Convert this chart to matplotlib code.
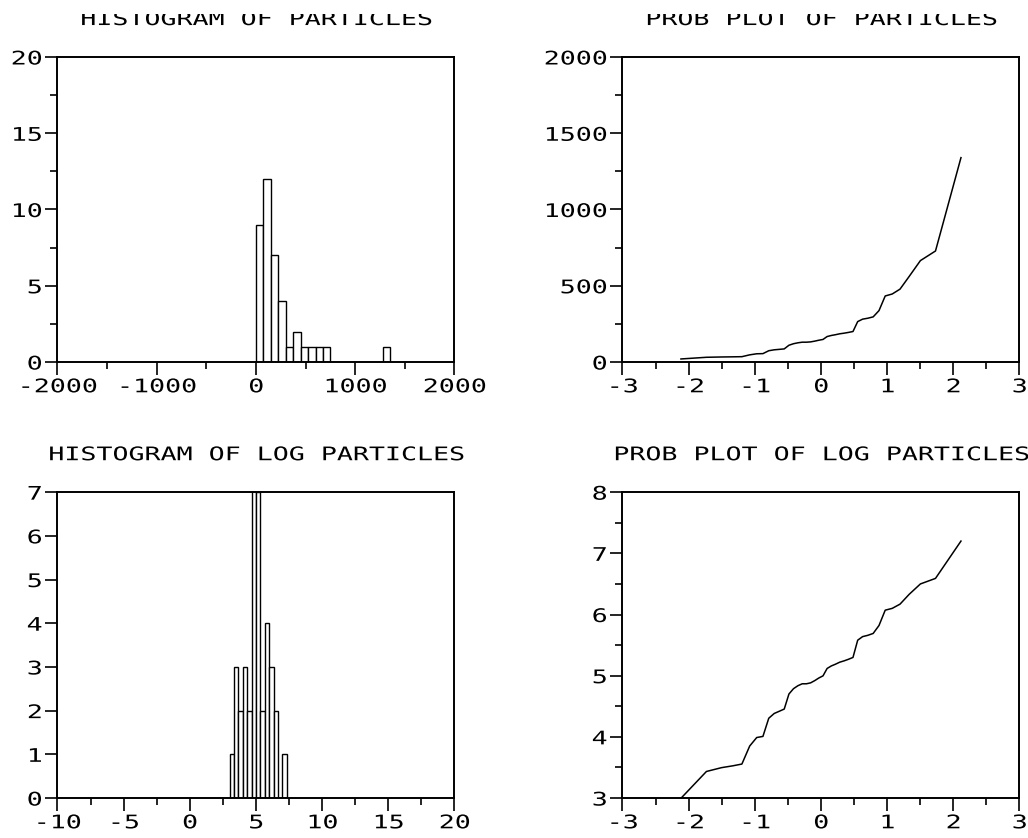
import matplotlib
matplotlib.use("Agg")
import matplotlib.pyplot as plt
import numpy as np
from matplotlib.patheffects import AbstractPathEffect
from matplotlib.transforms import Affine2D, Bbox, TransformedBbox
from matplotlib.ticker import MultipleLocator

# particle sizes, sorted
particles = [20, 31, 33, 34, 35, 47, 54, 55, 74, 80,
             83, 86, 110, 120, 126, 130, 130, 132, 137, 143,
             148, 167, 174, 179, 185, 189, 194, 200, 265, 281,
             287, 296, 337, 433, 446, 478, 561, 665, 728, 1340]

# normal order statistic medians (n = 40)
prob_x = [-2.116, -1.731, -1.503, -1.333, -1.195, -1.077, -0.971, -0.877, -0.789, -0.707,
          -0.629, -0.555, -0.484, -0.415, -0.348, -0.283, -0.219, -0.156, -0.093, -0.031,
          0.031, 0.093, 0.156, 0.219, 0.283, 0.348, 0.415, 0.484, 0.555, 0.629,
          0.707, 0.789, 0.877, 0.971, 1.077, 1.195, 1.333, 1.503, 1.731, 2.116]

# histogram of particles: class width 75 starting at 0
hist_start = 0
hist_width = 75
hist_counts = [9, 12, 7, 4, 1, 2, 1, 1, 1, 1, 0, 0, 0, 0, 0, 0, 0, 1]

# histogram of log particles: class width 1/3 starting at 3
loghist_start = 3.0
loghist_width = 1 / 3
loghist_counts = [1, 3, 2, 3, 2, 10, 7, 2, 4, 3, 2, 0, 1]

plt.rcParams['font.family'] = 'DejaVu Sans Mono'
plt.rcParams['font.size'] = 13.5
plt.rcParams['axes.unicode_minus'] = False


class Widen(AbstractPathEffect):
    """stretch text horizontally around an anchor (0 left, 0.5 centre, 1 right)"""

    def __init__(self, sx=1.42, anchor=0.5):
        super().__init__()
        self.sx = sx
        self.anchor = anchor

    def draw_path(self, renderer, gc, tpath, affine, rgbFace=None):
        xs = affine.transform(tpath.vertices)[:, 0]
        x0 = xs.min() + self.anchor * (xs.max() - xs.min())
        t = affine + Affine2D().translate(-x0, 0).scale(self.sx, 1).translate(x0, 0)
        renderer.draw_path(gc, tpath, t, rgbFace)


fig = plt.figure(figsize=(10.28, 8.38), dpi=100)
ax1 = fig.add_axes([0.0559, 0.568, 0.3862, 0.364])
ax2 = fig.add_axes([0.6055, 0.568, 0.3862, 0.364])
ax3 = fig.add_axes([0.0559, 0.0477, 0.3862, 0.365])
ax4 = fig.add_axes([0.6055, 0.0477, 0.3862, 0.365])

# the top row titles run off the upper edge of the page
page_top = TransformedBbox(Bbox([[0, 0], [1, 824 / 838]]), fig.transFigure)


def style(ax, title, xt, xminor, yt, yminor):
    ax.set_xlim(xt[0], xt[-1])
    ax.set_ylim(yt[0], yt[-1])
    ax.set_xticks(xt)
    ax.set_yticks(yt)
    ax.xaxis.set_minor_locator(MultipleLocator(xminor))
    if yminor:
        ax.yaxis.set_minor_locator(MultipleLocator(yminor))
    ax.tick_params(which='both', direction='out', top=False, right=False, width=1.2, color='black')
    ax.tick_params(which='major', length=9, pad=2)
    ax.tick_params(which='minor', length=5)
    for s in ax.spines.values():
        s.set_linewidth(1.4)
    for lab in ax.get_xticklabels():
        lab.set_path_effects([Widen(anchor=0.5)])
    for lab in ax.get_yticklabels():
        lab.set_path_effects([Widen(anchor=1.0)])
    t = ax.set_title(title, pad=23, fontsize=13.5)
    t.set_path_effects([Widen(anchor=0.5)])
    return t


# histogram of particles
left = [hist_start + i * hist_width for i in range(len(hist_counts))]
ax1.bar(left, hist_counts, width=hist_width, align='edge', facecolor='white',
        edgecolor='black', linewidth=1.0)
t = style(ax1, 'HISTOGRAM OF PARTICLES', [-2000, -1000, 0, 1000, 2000], 500, [0, 5, 10, 15, 20], 2.5)
t.set_clip_box(page_top)
t.set_clip_on(True)

# probability plot of particles
ax2.plot(prob_x, particles, color='black', linewidth=1.1)
t = style(ax2, 'PROB PLOT OF PARTICLES', [-3, -2, -1, 0, 1, 2, 3], 0.5, [0, 500, 1000, 1500, 2000], 250)
t.set_clip_box(page_top)
t.set_clip_on(True)

# histogram of log particles (tallest classes run past the top of the frame)
left = [loghist_start + i * loghist_width for i in range(len(loghist_counts))]
ax3.bar(left, loghist_counts, width=loghist_width, align='edge', facecolor='white',
        edgecolor='black', linewidth=1.0)
style(ax3, 'HISTOGRAM OF LOG PARTICLES', [-10, -5, 0, 5, 10, 15, 20], 2.5, [0, 1, 2, 3, 4, 5, 6, 7], None)

# probability plot of log particles
ax4.plot(prob_x, np.log(particles), color='black', linewidth=1.1)
style(ax4, 'PROB PLOT OF LOG PARTICLES', [-3, -2, -1, 0, 1, 2, 3], 0.5, [3, 4, 5, 6, 7, 8], 0.5)

fig.savefig('out.png', dpi=100)
